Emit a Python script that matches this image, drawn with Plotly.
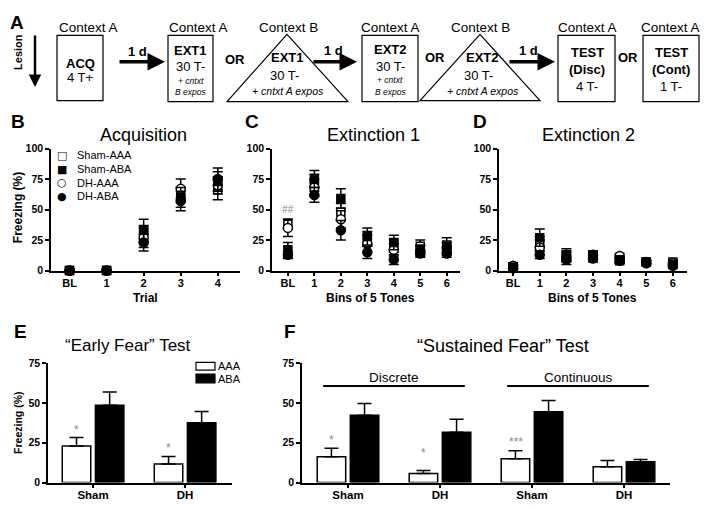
import plotly.graph_objects as go

W, H = 708, 510
FONT = "Liberation Sans"

# ---------------- data ----------------
trial_labels = ["BL", "1", "2", "3", "4"]
bin_labels = ["BL", "1", "2", "3", "4", "5", "6"]
group_names = ["Sham-AAA", "Sham-ABA", "DH-AAA", "DH-ABA"]

acq_sham_aaa = [0, 0, 30, 62, 66]
acq_sham_aaa_err = [0, 0, 7, 6, 8]
acq_sham_aba = [0, 0, 33, 60, 73]
acq_sham_aba_err = [0, 0, 9, 8, 8]
acq_dh_aaa = [0, 0, 27, 67, 70]
acq_dh_aaa_err = [0, 0, 8, 8, 7]
acq_dh_aba = [0, 0, 23, 57, 75]
acq_dh_aba_err = [0, 0, 7, 8, 9]

ext1_sham_aaa = [38, 72, 48, 26, 20, 20, 21]
ext1_sham_aaa_err = [4, 7, 7, 6, 5, 5, 6]
ext1_sham_aba = [17, 75, 59, 28, 23, 17, 18]
ext1_sham_aba_err = [6, 7, 8, 7, 6, 4, 5]
ext1_dh_aaa = [35, 68, 42, 22, 17, 16, 19]
ext1_dh_aaa_err = [7, 7, 7, 7, 5, 4, 4]
ext1_dh_aba = [13, 62, 33, 15, 9, 14, 14]
ext1_dh_aba_err = [3, 6, 8, 5, 4, 3, 3]

ext2_sham_aaa = [3, 22, 12, 12, 8, 7, 7]
ext2_sham_aaa_err = [2, 6, 4, 3, 2, 1.5, 2]
ext2_sham_aba = [3, 27, 13, 12, 9, 7, 5]
ext2_sham_aba_err = [2, 7, 5, 4, 2, 1.5, 2]
ext2_dh_aaa = [4, 19, 11, 13, 12, 7, 6]
ext2_dh_aaa_err = [2, 6, 4, 3, 2, 1.5, 2]
ext2_dh_aba = [2, 13, 9, 10, 8, 6, 4]
ext2_dh_aba_err = [2, 3, 4, 3, 2, 1.5, 1.5]

test_groups = ["Sham", "DH"]
early_aaa = [23, 11.7]
early_aaa_err = [5.3, 4.7]
early_aba = [48.6, 37.7]
early_aba_err = [8.4, 7.0]

sust_groups = ["Sham", "DH", "Sham", "DH"]
sust_contexts = ["Discrete", "Continuous"]
sust_aaa = [16.3, 5.7, 14.9, 10.0]
sust_aaa_err = [5.2, 1.9, 5.1, 3.9]
sust_aba = [42.3, 31.7, 44.6, 13.1]
sust_aba_err = [7.4, 8.2, 7.1, 1.4]


def px(x):
    return x / W


def py(y):
    return 1 - y / H


STYLE = {
    "Sham-AAA": ("square", "white", 8),
    "Sham-ABA": ("square", "black", 8),
    "DH-AAA": ("circle", "white", 9),
    "DH-ABA": ("circle", "black", 9),
}

fig = go.Figure()


def add_series(name, xs, ys, err, xa, ya):
    sym, fill, size = STYLE[name]
    fig.add_trace(go.Scatter(
        x=xs, y=ys, name=name, mode="markers", xaxis=xa, yaxis=ya,
        showlegend=False, cliponaxis=False,
        marker=dict(symbol=sym, color=fill, size=size, line=dict(color="black", width=1.5)),
        error_y=dict(type="data", array=err, color="black", thickness=1.5, width=5),
    ))


panels = [
    ("x", "y", trial_labels, [acq_sham_aaa, acq_dh_aaa, acq_dh_aba, acq_sham_aba],
     [acq_sham_aaa_err, acq_dh_aaa_err, acq_dh_aba_err, acq_sham_aba_err]),
    ("x2", "y2", bin_labels, [ext1_sham_aaa, ext1_dh_aaa, ext1_dh_aba, ext1_sham_aba],
     [ext1_sham_aaa_err, ext1_dh_aaa_err, ext1_dh_aba_err, ext1_sham_aba_err]),
    ("x3", "y3", bin_labels, [ext2_sham_aaa, ext2_dh_aaa, ext2_dh_aba, ext2_sham_aba],
     [ext2_sham_aaa_err, ext2_dh_aaa_err, ext2_dh_aba_err, ext2_sham_aba_err]),
]
draw_order = ["Sham-AAA", "DH-AAA", "DH-ABA", "Sham-ABA"]
for xa, ya, labels, series, errs in panels:
    for nm, ys, es in zip(draw_order, series, errs):
        add_series(nm, labels, ys, es, xa, ya)


def add_bars(xs, ys, err, fill, name, xa, ya):
    fig.add_trace(go.Bar(
        x=xs, y=ys, name=name, xaxis=xa, yaxis=ya, showlegend=False,
        marker=dict(color=fill, line=dict(color="black", width=1.5)),
        error_y=dict(type="data", symmetric=False, array=err, arrayminus=[0] * len(err),
                     color="black", thickness=1.5, width=7),
    ))


add_bars(test_groups, early_aaa, early_aaa_err, "white", "AAA", "x4", "y4")
add_bars(test_groups, early_aba, early_aba_err, "black", "ABA", "x4", "y4")
sust_idx = list(range(len(sust_groups)))
add_bars(sust_idx, sust_aaa, sust_aaa_err, "white", "AAA", "x5", "y5")
add_bars(sust_idx, sust_aba, sust_aba_err, "black", "ABA", "x5", "y5")

# ---------------- axes ----------------
def xax(d0, d1, anchor, rng, **kw):
    a = dict(domain=[px(d0), px(d1)], anchor=anchor, range=rng, showline=True, linecolor="black",
             linewidth=1.5, ticks="outside", ticklen=4, tickwidth=1.5, tickcolor="black",
             showgrid=False, zeroline=False, ticklabelstandoff=-3,
             tickfont=dict(family=FONT, size=11, color="black", weight="bold"))
    a.update(kw)
    return a


def yax(top, bottom, anchor, rng, vals):
    return dict(domain=[py(bottom), py(top)], anchor=anchor, range=rng, showline=True,
                linecolor="black", linewidth=1.5, ticks="outside", ticklen=4, tickwidth=1.5,
                tickcolor="black", showgrid=False, zeroline=False, tickvals=vals,
                tickfont=dict(family=FONT, size=10.5, color="black", weight="bold"))


fig.update_layout(
    xaxis=xax(51, 240, "y", [-0.5, 4.6], type="category"),
    yaxis=yax(146, 271, "x", [0, 100], [0, 25, 50, 75, 100]),
    xaxis2=xax(272, 460, "y2", [-0.6, 6.5], type="category"),
    yaxis2=yax(146, 271, "x2", [0, 100], [0, 25, 50, 75, 100]),
    xaxis3=xax(499, 687, "y3", [-0.53, 6.53], type="category"),
    yaxis3=yax(146, 271, "x3", [0, 100], [0, 25, 50, 75, 100]),
    xaxis4=xax(48, 232, "y4", [-0.49, 1.51], type="category",
               tickfont=dict(family=FONT, size=11.5, color="black", weight="bold")),
    yaxis4=yax(366, 488, "x4", [0, 75], [0, 25, 50, 75]),
    xaxis5=xax(302, 670, "y5", [-0.5, 3.5], tickvals=sust_idx, ticktext=sust_groups,
               tickfont=dict(family=FONT, size=11.5, color="black", weight="bold")),
    yaxis5=yax(366, 488, "x5", [0, 75], [0, 25, 50, 75]),
    barmode="group", bargap=0.28, bargroupgap=0.14,
    width=W, height=H, margin=dict(l=0, r=0, t=0, b=0), autosize=False,
    paper_bgcolor="white", plot_bgcolor="white", showlegend=False,
)

# ---------------- annotations & shapes ----------------
ann = []
shapes = []


def txt(x, y, s, size, bold=False, italic=False, color="black", xanchor="center", angle=0):
    ann.append(dict(x=px(x), y=py(y), xref="paper", yref="paper", text=s, showarrow=False,
                    font=dict(family=FONT, size=size, color=color,
                              weight="bold" if bold else "normal",
                              style="italic" if italic else "normal"),
                    xanchor=xanchor, yanchor="middle", textangle=angle))


def rect(x0, y0, x1, y1, fill="white", lw=1.2):
    shapes.append(dict(type="rect", xref="paper", yref="paper", x0=px(x0), x1=px(x1),
                       y0=py(y1), y1=py(y0), line=dict(color="black", width=lw), fillcolor=fill))


def tri(ax_, ay_, bx0, bx1, by):
    path = f"M {px(ax_)},{py(ay_)} L {px(bx0)},{py(by)} L {px(bx1)},{py(by)} Z"
    shapes.append(dict(type="path", xref="paper", yref="paper", path=path,
                       line=dict(color="black", width=1.2)))


def arrow(x0, x1, y, w=3.5):
    ann.append(dict(x=px(x1), y=py(y), xref="paper", yref="paper", ax=x0 - x1, ay=0,
                    axref="pixel", ayref="pixel", text="", showarrow=True, arrowhead=2,
                    arrowsize=1, arrowwidth=w, arrowcolor="black"))


# Panel A schematic
txt(17, 17, "A", 19, bold=True)
txt(18, 47, "Lesion", 11, bold=True, angle=-90)
ann.append(dict(x=px(35), y=py(83), xref="paper", yref="paper", ax=0, ay=-53,
                axref="pixel", ayref="pixel", text="", showarrow=True, arrowhead=2,
                arrowsize=1, arrowwidth=2.5, arrowcolor="black"))

rect(57, 30, 103, 97)
txt(57, 22, "Context A", 13.5, xanchor="left")
txt(80, 59, "ACQ", 13, bold=True)
txt(80, 73, "4 T+", 13)
arrow(118, 165, 57)
txt(137, 47, "1 d", 13, bold=True)

rect(168, 30, 213, 98)
txt(167, 22, "Context A", 13.5, xanchor="left")
txt(190.5, 46, "EXT1", 13, bold=True)
txt(190.5, 62, "30 T-", 13)
txt(190.5, 77, "+ cntxt", 8.5, italic=True)
txt(190.5, 88, "B expos", 8.5, italic=True)
txt(235, 55, "OR", 13, bold=True)

tri(287, 29, 227, 348, 98)
txt(288, 22, "Context B", 13.5)
txt(287, 53, "EXT1", 13, bold=True)
txt(284, 71, "30 T-", 13)
txt(288, 87, "+ cntxt A expos", 10.5, italic=True)
arrow(312, 357, 57)
txt(333, 46, "1 d", 13, bold=True)

rect(362, 30, 418, 98)
txt(390, 22, "Context A", 13.5)
txt(390, 45, "EXT2", 13, bold=True)
txt(390, 62, "30 T-", 13)
txt(390, 76, "+ cntxt", 8.5, italic=True)
txt(390, 88, "B expos", 8.5, italic=True)
txt(435, 53, "OR", 13, bold=True)

tri(480, 29, 420, 540, 97)
txt(480, 22, "Context B", 13.5)
txt(482, 53, "EXT2", 13, bold=True)
txt(478, 71, "30 T-", 13)
txt(483, 87, "+ cntxt A expos", 10.5, italic=True)
arrow(508, 555, 57)
txt(528, 46, "1 d", 13, bold=True)

rect(558, 30, 615, 98)
txt(587, 22, "Context A", 13.5)
txt(587, 48, "TEST", 13, bold=True)
txt(587, 65, "(Disc)", 13, bold=True)
txt(587, 82, "4 T-", 13)
txt(628, 53, "OR", 13, bold=True)

rect(643, 30, 699, 98)
txt(670, 22, "Context A", 13.5)
txt(671, 48, "TEST", 13, bold=True)
txt(671, 65, "(Cont)", 13, bold=True)
txt(671, 82, "1 T-", 13)

# Panel letters and titles
for L, x, y in [("B", 18, 118), ("C", 252, 118), ("D", 480, 118), ("E", 20, 333), ("F", 290, 333)]:
    txt(x, y, L, 19, bold=True)
txt(143, 132, "Acquisition", 18)
txt(373, 132, "Extinction 1", 18)
txt(588, 132, "Extinction 2", 18)
txt(128, 348, "“Early Fear” Test", 17)
txt(503, 348, "“Sustained Fear” Test", 18)

# axis titles
txt(18, 207, "Freezing (%)", 12, bold=True, angle=-90)
txt(145, 299, "Trial", 12, bold=True)
txt(370, 299, "Bins of 5 Tones", 12, bold=True)
txt(592, 299, "Bins of 5 Tones", 12, bold=True)
txt(18, 427, "Freezing (%)", 10.5, bold=True, angle=-90)

# legend panel B
leg_glyph = {"Sham-AAA": "□", "Sham-ABA": "■", "DH-AAA": "○", "DH-ABA": "●"}
for i, nm in enumerate(group_names):
    yy = 153 + 14 * i
    ann.append(dict(x=px(62), y=py(yy), xref="paper", yref="paper", text=leg_glyph[nm],
                    showarrow=False, font=dict(family="DejaVu Sans", size=11, color="black"),
                    xanchor="center", yanchor="middle"))
    txt(75, yy, nm, 11, xanchor="left")

# legend panel E
rect(196, 365, 215, 373, fill="white", lw=1.2)
rect(196, 377, 215, 386, fill="black", lw=1.2)
txt(216, 369, "AAA", 11, xanchor="left")
txt(216, 381.5, "ABA", 11, xanchor="left")

# significance marks
GRAY = "#888888"
ann.append(dict(x="BL", y=50, xref="x2", yref="y2", text="##", showarrow=False,
                font=dict(family=FONT, size=10, color=GRAY, style="italic")))
for xr, yr, xv, yv, s, shift in [
    ("x4", "y4", "Sham", 33, "*", -16.5),
    ("x4", "y4", "DH", 21.5, "*", -16.5),
    ("x5", "y5", 0, 27, "*", -16.5),
    ("x5", "y5", 1, 18.5, "*", -16.5),
    ("x5", "y5", 2, 25.5, "***", -16.5),
]:
    ann.append(dict(x=xv, y=yv, xref=xr, yref=yr, text=s, showarrow=False, xshift=shift,
                    font=dict(family=FONT, size=12, color=GRAY)))

# Discrete / Continuous brackets
for i, ctx in enumerate(sust_contexts):
    c0, c1 = 2 * i, 2 * i + 1
    shapes.append(dict(type="line", xref="x5", yref="y5", x0=c0 - 0.27, x1=c1 + 0.27,
                       y0=60.7, y1=60.7, line=dict(color="black", width=2)))
    ann.append(dict(x=(c0 + c1) / 2, y=66, xref="x5", yref="y5", text=ctx, showarrow=False,
                    font=dict(family=FONT, size=13.5, color="black")))

fig.update_layout(annotations=ann, shapes=shapes)
fig.write_html("out.html", config={"displayModeBar": False},
               post_script="document.body.style.margin='0';document.body.style.padding='0';")
